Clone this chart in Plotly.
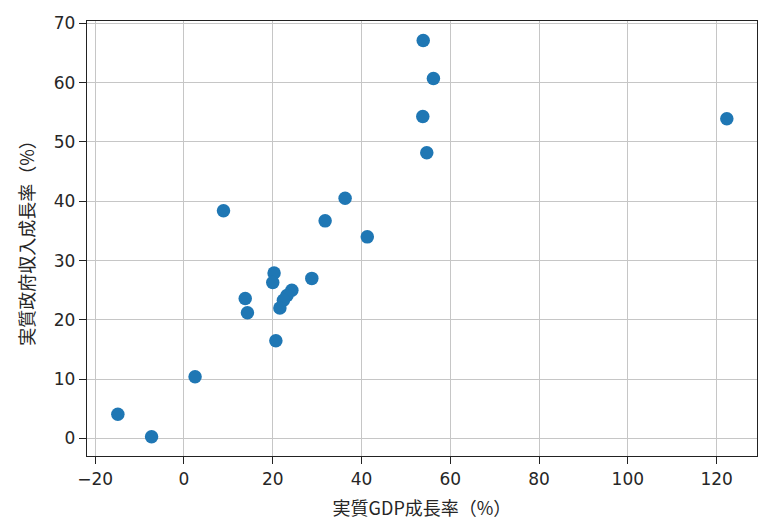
"""Scatter: real GDP growth vs real government revenue growth."""

import plotly.graph_objects as go

# data
gdp_growth = [
    53.9, 56.2, 53.8, 54.7, 122.3,
    8.9, 36.3, 31.8, 41.3,
    20.3, 20.0, 28.8, 24.3, 23.2, 22.4, 21.6,
    13.8, 14.3, 20.7,
    2.5, -14.9, -7.3,
]
revenue_growth = [
    67.1, 60.7, 54.3, 48.2, 53.9,
    38.4, 40.5, 36.7, 34.0,
    27.9, 26.3, 27.0, 25.0, 24.1, 23.3, 22.0,
    23.6, 21.2, 16.5,
    10.4, 4.1, 0.3,
]

x_ticks = [-20, 0, 20, 40, 60, 80, 100, 120]
y_ticks = [0, 10, 20, 30, 40, 50, 60, 70]

fig = go.Figure(
    go.Scatter(
        x=gdp_growth,
        y=revenue_growth,
        mode="markers",
        marker=dict(color="#1f77b4", size=13.5, line=dict(width=0)),
    )
)

axis_style = dict(
    automargin=False,
    showline=True,
    linecolor="#222",
    linewidth=1.3,
    mirror=True,
    ticks="outside",
    ticklen=7,
    tickwidth=1.2,
    tickcolor="#222",
    showgrid=True,
    gridcolor="#c6c6c6",
    gridwidth=1.2,
    zeroline=False,
    tickfont=dict(family="DejaVu Sans", size=17, color="#262626"),
)

fig.update_xaxes(
    range=[-21.85, 129.1],
    tickvals=x_ticks,
    ticktext=[str(v).replace("-", "\u2212") for v in x_ticks],
    title=dict(text="実質GDP成長率（%）", standoff=14,
               font=dict(family="Noto Sans CJK JP", size=18, color="#262626")),
    **axis_style,
)
fig.update_yaxes(
    range=[-2.95, 70.4],
    tickvals=y_ticks,
    title=dict(text="実質政府収入成長率（%）", standoff=14,
               font=dict(family="Noto Sans CJK JP", size=18, color="#262626")),
    **axis_style,
)

# the page body adds an 8px offset, so the figure is sized and placed to compensate
fig.update_layout(
    width=769,
    height=522,
    template="plotly_white",
    plot_bgcolor="white",
    paper_bgcolor="white",
    showlegend=False,
    margin=dict(l=79, r=20, t=13, b=74),
)

fig.write_html("out.html")
